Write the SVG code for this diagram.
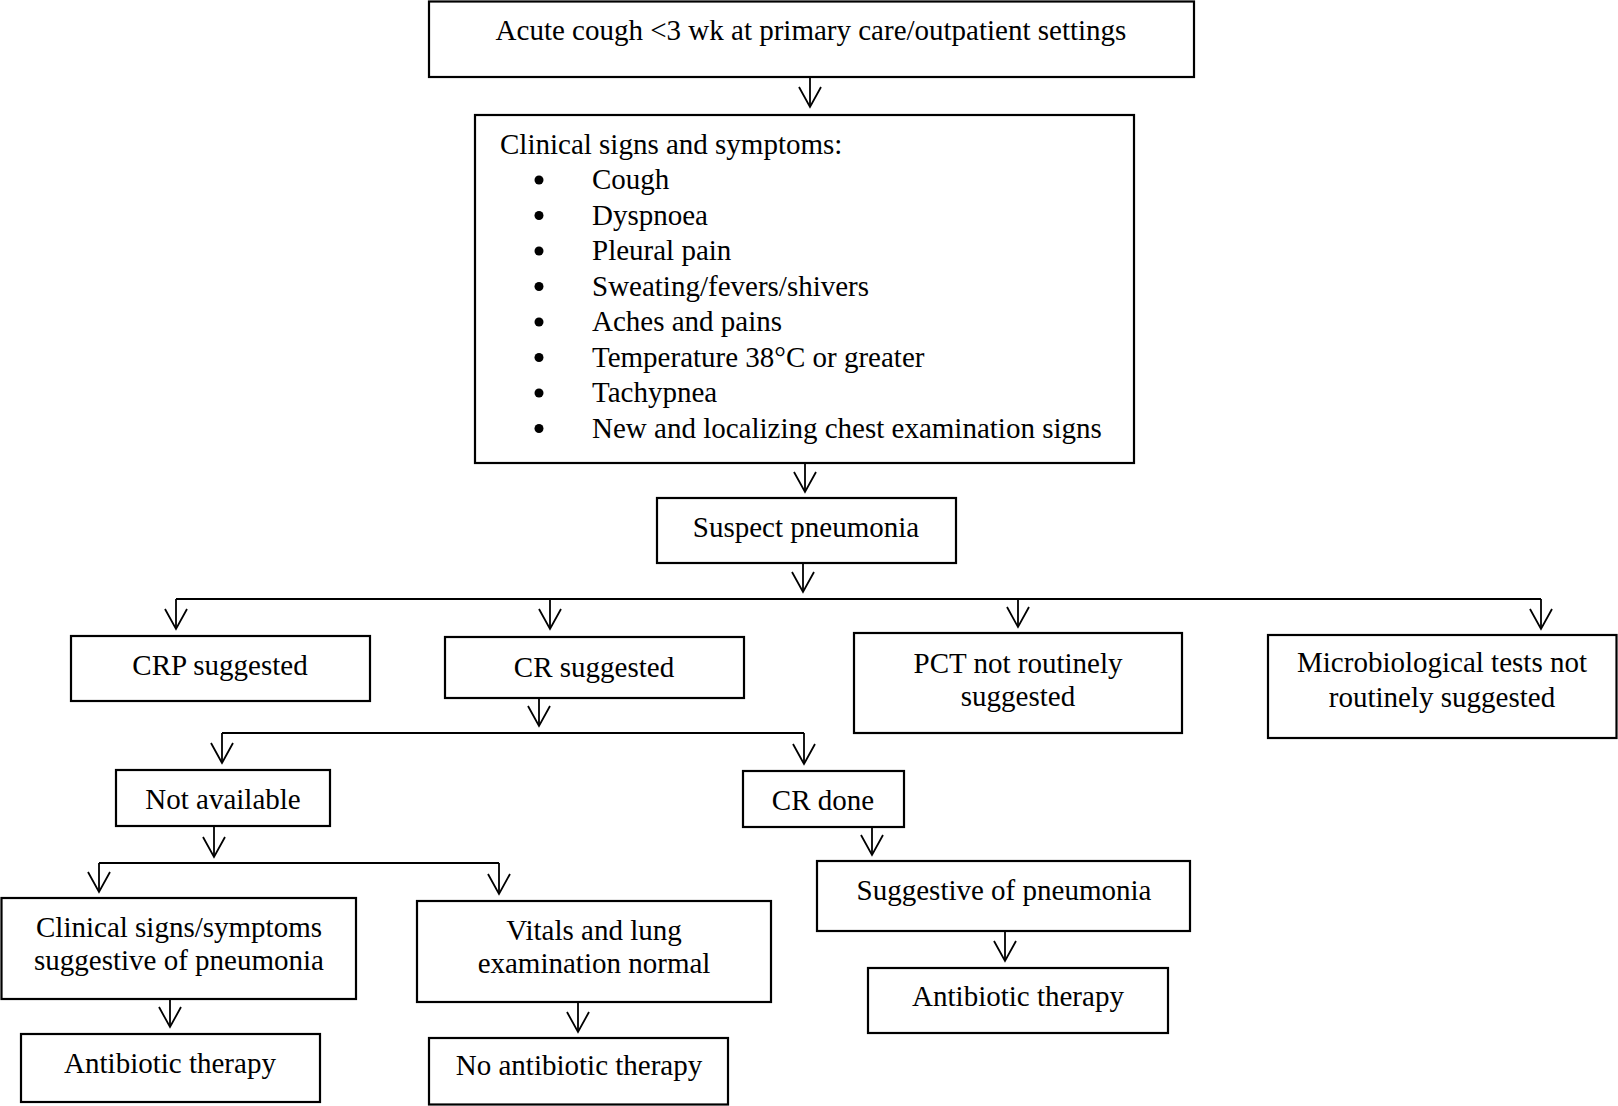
<svg xmlns="http://www.w3.org/2000/svg" width="1618" height="1106" viewBox="0 0 1618 1106">
  <style>
    .box { fill: #ffffff; stroke: #000000; stroke-width: 2.2; }
    .t { font-family: "Liberation Serif", "Times New Roman", serif; font-size: 29px; fill: #000000; }
    .c { text-anchor: middle; }
    .ln { fill: none; stroke: #000000; stroke-width: 1.8; }
    .arr { fill: none; stroke: #000000; stroke-width: 1.8; marker-end: url(#v); }
  </style>
  <defs>
    <marker id="v" viewBox="0 0 24 24" markerWidth="24" markerHeight="24" refX="21" refY="12" orient="auto" markerUnits="userSpaceOnUse" overflow="visible">
      <path d="M1,1 L21,12 L1,23" fill="none" stroke="#000000" stroke-width="1.8"/>
    </marker>
  </defs>
  <rect width="1618" height="1106" fill="#ffffff"/>

  <g id="connectors">
    <line class="arr" x1="810" y1="77" x2="810" y2="107"/>
    <line class="arr" x1="805" y1="463" x2="805" y2="492"/>
    <line class="arr" x1="803" y1="563" x2="803" y2="592"/>
    <line class="ln" x1="176" y1="599" x2="1541" y2="599"/>
    <line class="arr" x1="176" y1="599" x2="176" y2="629"/>
    <line class="arr" x1="550" y1="599" x2="550" y2="629"/>
    <line class="arr" x1="1018" y1="599" x2="1018" y2="627"/>
    <line class="arr" x1="1541" y1="599" x2="1541" y2="629"/>
    <line class="arr" x1="539" y1="698" x2="539" y2="726"/>
    <line class="ln" x1="222" y1="733" x2="804" y2="733"/>
    <line class="arr" x1="222" y1="733" x2="222" y2="763"/>
    <line class="arr" x1="804" y1="733" x2="804" y2="764"/>
    <line class="arr" x1="214" y1="826" x2="214" y2="857"/>
    <line class="ln" x1="99" y1="863" x2="499" y2="863"/>
    <line class="arr" x1="99" y1="863" x2="99" y2="892"/>
    <line class="arr" x1="499" y1="863" x2="499" y2="894"/>
    <line class="arr" x1="170" y1="999" x2="170" y2="1027"/>
    <line class="arr" x1="578" y1="1002" x2="578" y2="1032"/>
    <line class="arr" x1="872" y1="827" x2="872" y2="855"/>
    <line class="arr" x1="1005" y1="931" x2="1005" y2="961"/>
  </g>

  <g id="acute-cough">
    <rect class="box" x="429" y="1.5" width="765" height="75.5"/>
    <text class="t c" x="811" y="40">Acute cough &lt;3 wk at primary care/outpatient settings</text>
  </g>

  <g id="clinical-signs">
    <rect class="box" x="475" y="115" width="659" height="348"/>
    <text class="t" x="500" y="154">Clinical signs and symptoms:</text>
    <g fill="#000000">
      <circle cx="539" cy="180" r="4.5"/>
      <circle cx="539" cy="215.5" r="4.5"/>
      <circle cx="539" cy="251" r="4.5"/>
      <circle cx="539" cy="286.5" r="4.5"/>
      <circle cx="539" cy="322" r="4.5"/>
      <circle cx="539" cy="357.5" r="4.5"/>
      <circle cx="539" cy="393" r="4.5"/>
      <circle cx="539" cy="428.5" r="4.5"/>
    </g>
    <text class="t" x="592" y="189">Cough</text>
    <text class="t" x="592" y="224.5">Dyspnoea</text>
    <text class="t" x="592" y="260">Pleural pain</text>
    <text class="t" x="592" y="295.5">Sweating/fevers/shivers</text>
    <text class="t" x="592" y="331">Aches and pains</text>
    <text class="t" x="592" y="366.5">Temperature 38°C or greater</text>
    <text class="t" x="592" y="402">Tachypnea</text>
    <text class="t" x="592" y="437.5">New and localizing chest examination signs</text>
  </g>

  <g id="suspect-pneumonia">
    <rect class="box" x="657" y="498" width="299" height="65"/>
    <text class="t c" x="806" y="537">Suspect pneumonia</text>
  </g>

  <g id="crp-suggested">
    <rect class="box" x="71" y="636" width="299" height="65"/>
    <text class="t c" x="220" y="675">CRP suggested</text>
  </g>

  <g id="cr-suggested">
    <rect class="box" x="445" y="637" width="299" height="61"/>
    <text class="t c" x="594" y="677">CR suggested</text>
  </g>

  <g id="pct">
    <rect class="box" x="854" y="633" width="328" height="100"/>
    <text class="t c" x="1018" y="673">PCT not routinely</text>
    <text class="t c" x="1018" y="706">suggested</text>
  </g>

  <g id="microbiological">
    <rect class="box" x="1268" y="635" width="348.5" height="103"/>
    <text class="t c" x="1442" y="672">Microbiological tests not</text>
    <text class="t c" x="1442" y="707">routinely suggested</text>
  </g>

  <g id="not-available">
    <rect class="box" x="116" y="770" width="214" height="56"/>
    <text class="t c" x="223" y="809">Not available</text>
  </g>

  <g id="cr-done">
    <rect class="box" x="743" y="771" width="161" height="56"/>
    <text class="t c" x="823" y="810">CR done</text>
  </g>

  <g id="clinical-suggestive">
    <rect class="box" x="1.5" y="898" width="354.5" height="101"/>
    <text class="t c" x="179" y="937">Clinical signs/symptoms</text>
    <text class="t c" x="179" y="970">suggestive of pneumonia</text>
  </g>

  <g id="vitals-normal">
    <rect class="box" x="417" y="901" width="354" height="101"/>
    <text class="t c" x="594" y="940">Vitals and lung</text>
    <text class="t c" x="594" y="973">examination normal</text>
  </g>

  <g id="antibiotic-left">
    <rect class="box" x="21" y="1034" width="299" height="68"/>
    <text class="t c" x="170" y="1073">Antibiotic therapy</text>
  </g>

  <g id="no-antibiotic">
    <rect class="box" x="429" y="1038" width="299" height="66.5"/>
    <text class="t c" x="579" y="1075">No antibiotic therapy</text>
  </g>

  <g id="suggestive-pneumonia">
    <rect class="box" x="817" y="861" width="373" height="70"/>
    <text class="t c" x="1004" y="900">Suggestive of pneumonia</text>
  </g>

  <g id="antibiotic-right">
    <rect class="box" x="868" y="968" width="300" height="65"/>
    <text class="t c" x="1018" y="1006">Antibiotic therapy</text>
  </g>
</svg>
